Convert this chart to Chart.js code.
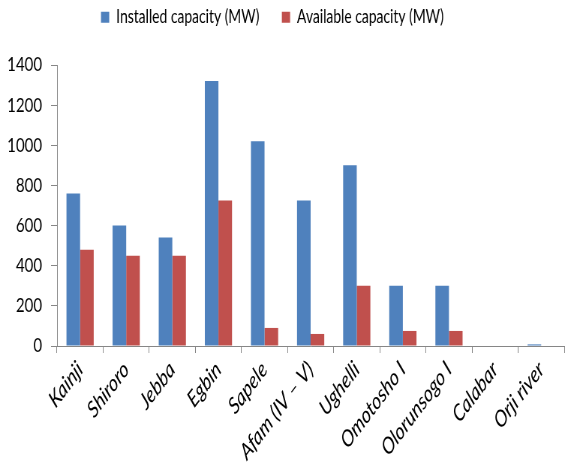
<!DOCTYPE html>
<html>
<head>
<meta charset="utf-8">
<script src="https://cdn.jsdelivr.net/npm/chart.js@4/dist/chart.umd.min.js"></script>
<style>
  html, body { margin: 0; padding: 0; background: #fff; overflow: hidden; }
  #wrap { width: 568px; height: 468px; overflow: hidden; }
  /* the chart is laid out on a wider canvas and narrowed to the page width */
  #c { transform: scaleX(0.7503); transform-origin: 0 0; display: block; }
</style>
</head>
<body>
<div id="wrap"><canvas id="c" width="757" height="468"></canvas></div>
<script>
// Power stations
const stations = ['Kainji', 'Shiroro', 'Jebba', 'Egbin', 'Sapele', 'Afam (IV \u2013 V)', 'Ughelli', 'Omotosho I', 'Olorunsogo I', 'Calabar', 'Orji river'];
// Capacities in MW
const installed = [760, 600, 540, 1320, 1020, 725, 900, 300, 300, 0, 8];
const available = [480, 450, 450, 725, 90, 60, 300, 75, 75, 0, 0];
const yTicks = [0, 200, 400, 600, 800, 1000, 1200, 1400];

const FONT = "Lato, 'Open Sans', 'Liberation Sans', sans-serif";
const axisGrey = '#868686';

// legend box size and offset
const LEGEND_H = 65;
const LEGEND_DX = -13;
const LEGEND_DY = -22;

const legendPlacement = {
  id: 'legendPlacement',
  beforeLayout(chart) {
    const lg = chart.legend;
    if (lg && !lg.__fitWrapped) {
      const fit = lg.fit.bind(lg);
      lg.fit = function () { fit(); this.height = LEGEND_H; };
      lg.__fitWrapped = true;
    }
  },
  afterLayout(chart) {
    const lg = chart.legend;
    if (!lg) return;
    lg.left += LEGEND_DX; lg.right += LEGEND_DX;
    lg.top += LEGEND_DY; lg.bottom += LEGEND_DY;
  }
};

new Chart(document.getElementById('c'), {
  type: 'bar',
  data: {
    labels: stations,
    datasets: [
      { label: 'Installed capacity (MW)', data: installed, backgroundColor: '#4F81BD' },
      { label: 'Available capacity (MW)', data: available, backgroundColor: '#C0504D' }
    ]
  },
  plugins: [legendPlacement],
  options: {
    responsive: false,
    animation: false,
    devicePixelRatio: 1,
    layout: { padding: { left: 0, right: 5, top: 0, bottom: 0 } },
    datasets: { bar: { categoryPercentage: 0.59, barPercentage: 1.0 } },
    plugins: {
      legend: {
        position: 'top',
        labels: {
          font: { family: FONT, size: 18.5 },
          color: '#000',
          boxWidth: 11,
          boxHeight: 11,
          padding: 30
        }
      },
      tooltip: { enabled: false }
    },
    scales: {
      x: {
        grid: { display: true, drawOnChartArea: false, drawTicks: true, tickLength: 7, color: axisGrey, offset: true },
        border: { color: axisGrey, width: 1 },
        ticks: {
          color: '#000',
          font: { family: FONT, size: 23, style: 'italic' },
          maxRotation: 45,
          minRotation: 45,
          autoSkip: false,
          padding: 3
        },
        afterFit: (s) => { s.height = 122; }
      },
      y: {
        min: 0,
        max: 1400,
        afterBuildTicks: (s) => { s.ticks = yTicks.map(v => ({ value: v })); },
        grid: { display: true, drawOnChartArea: false, drawTicks: true, tickLength: 8, color: axisGrey },
        border: { color: axisGrey, width: 1 },
        ticks: {
          color: '#000',
          font: { family: FONT, size: 20 },
          padding: 12,
          callback: (v) => String(v)
        },
        afterFit: (s) => { s.width = 76; }
      }
    }
  }
});
</script>
</body>
</html>
